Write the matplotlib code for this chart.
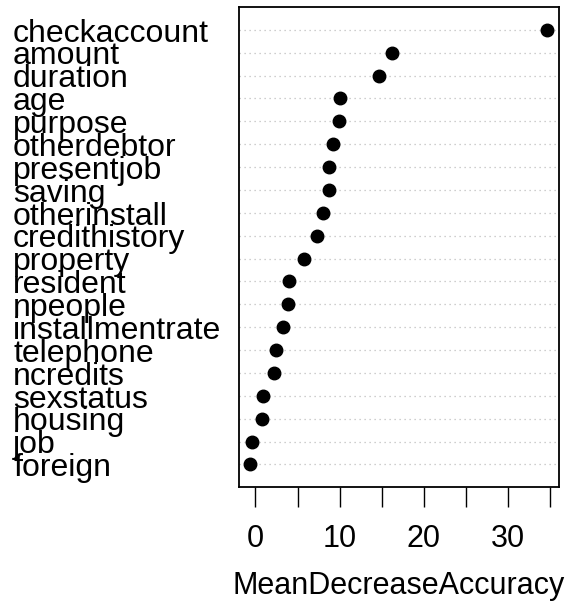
import matplotlib
matplotlib.use("Agg")
import matplotlib.pyplot as plt
import matplotlib.transforms as mtransforms

variables = ["checkaccount", "amount", "duration", "age", "purpose", "otherdebtor",
             "presentjob", "saving", "otherinstall", "credithistory", "property",
             "resident", "npeople", "installmentrate", "telephone", "ncredits",
             "sexstatus", "housing", "job", "foreign"]
values = [34.7, 16.2, 14.7, 10.0, 9.9, 9.2, 8.8, 8.7, 8.0, 7.3, 5.8,
          4.0, 3.85, 3.3, 2.4, 2.2, 0.9, 0.8, -0.4, -0.6]
xticks = [0, 5, 10, 15, 20, 25, 30, 35]
xticklabels = ["0", "", "10", "", "20", "", "30", ""]
xlabel = "MeanDecreaseAccuracy"

plt.rcParams['font.family'] = ['Liberation Sans', 'DejaVu Sans']
FS = 23
FS_X = 22

fig = plt.figure(figsize=(5.76, 6.04), dpi=100)
ax = fig.add_axes([238.5/576, 1 - 487.3/604, (559.3-238.5)/576, (487.3-7)/604])

n = len(variables)
ypos = list(range(n, 0, -1))
for y in ypos:
    ax.axhline(y, color="#BEBEBE", linestyle=(0, (1, 3)), linewidth=0.9, zorder=1)
ax.plot(values, ypos, 'o', color='black', markersize=9, linestyle='none', zorder=3)

lo, hi = min(values), max(values)
ext = 0.04 * (hi - lo)
ax.set_xlim(lo - ext, hi + ext)
ax.set_ylim(0, n + 1)

ax.set_xticks(xticks)
ax.set_xticklabels(xticklabels, fontsize=FS_X)
ax.tick_params(axis='x', length=14.5, width=1.0, pad=12, direction='out')
ax.set_yticks([])
for s in ax.spines.values():
    s.set_linewidth(1.3)
ax.set_xlabel(xlabel, fontsize=FS_X, labelpad=12)

trans = mtransforms.blended_transform_factory(fig.transFigure, ax.transData)
off = mtransforms.ScaledTranslation(0, -11.7/100, fig.dpi_scale_trans)
for name, y in zip(variables, ypos):
    fig.text(13/576, y, name, transform=trans + off, fontsize=FS,
             ha='left', va='baseline')

fig.savefig("out.png", dpi=100)
